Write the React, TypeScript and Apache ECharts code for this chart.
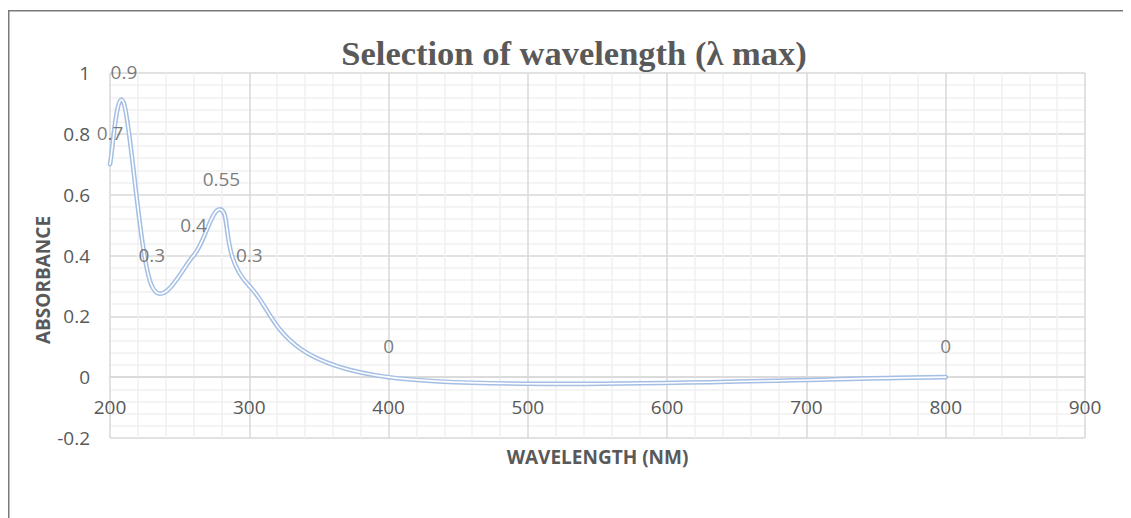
import React, { useEffect, useRef } from "react";
import * as echarts from "echarts";

// ---- data ----
const wavelengths = [200, 210, 230, 260, 280, 300, 400, 800];
const absorbance = [0.7, 0.9, 0.3, 0.4, 0.55, 0.3, 0, 0];
const xMin = 200;
const xMax = 900;
const xStep = 100;
const yMin = -0.2;
const yMax = 1;
const yStep = 0.2;
const titleText = "Selection of wavelength (λ max)";
const xName = "WAVELENGTH (NM)";
const yName = "ABSORBANCE";

const TEXT = "#595959";
const FONT = "'Open Sans', 'Noto Sans', sans-serif";
const GRID_H = 365;

function splineItem(width: number, color: string) {
  return (params: any, api: any) => {
    const i = api.value(2) as number;
    const n = wavelengths.length;
    const pt = (j: number) => {
      const k = Math.max(0, Math.min(n - 1, j));
      return api.coord([wavelengths[k], absorbance[k]]);
    };
    const p0 = pt(i - 1);
    const p1 = pt(i);
    const p2 = pt(i + 1);
    const p3 = pt(i + 2);
    const shape = {
      x1: p1[0],
      y1: p1[1],
      cpx1: p1[0] + (p2[0] - p0[0]) / 6,
      cpy1: p1[1] + (p2[1] - p0[1]) / 6,
      cpx2: p2[0] - (p3[0] - p1[0]) / 6,
      cpy2: p2[1] - (p3[1] - p1[1]) / 6,
      x2: p2[0],
      y2: p2[1],
    };
    return {
      type: "bezierCurve",
      shape,
      style: { stroke: color, lineWidth: width, fill: "none", lineCap: "round" },
    };
  };
}

export default function App() {
  const ref = useRef<HTMLDivElement>(null);
  useEffect(() => {
    if (!ref.current) return;
    const chart = echarts.init(ref.current, undefined, { renderer: "svg" });
    const segData = wavelengths.slice(0, -1).map((w, i) => [w, absorbance[i], i]);
    const pointData = wavelengths.map((w, i) => [w, absorbance[i]]);
    // distance from the bottom of the plot to the value-0 line
    const zeroOffset = (GRID_H * (0 - yMin)) / (yMax - yMin);
    chart.setOption({
      animation: false,
      backgroundColor: "#ffffff",
      grid: { left: 102, top: 65, width: 975, height: GRID_H, containLabel: false },
      xAxis: {
        type: "value",
        min: xMin,
        max: xMax,
        interval: xStep,
        position: "bottom",
        offset: -zeroOffset,
        axisLine: { show: true, onZero: false, lineStyle: { color: "#d9d9d9", width: 1.5 } },
        axisTick: { show: false },
        axisLabel: { color: TEXT, fontFamily: FONT, fontSize: 19, margin: 20 },
        splitLine: { show: true, lineStyle: { color: "#d9d9d9", width: 1.5 } },
        minorTick: { show: false, splitNumber: 5 },
        minorSplitLine: { show: true, lineStyle: { color: "#f0f0f0", width: 1.5 } },
      },
      yAxis: {
        type: "value",
        min: yMin,
        max: yMax,
        interval: yStep,
        axisLine: { show: false, onZero: false },
        axisTick: { show: false },
        axisLabel: { color: TEXT, fontFamily: FONT, fontSize: 19, margin: 20 },
        splitLine: { show: true, lineStyle: { color: "#d9d9d9", width: 1.5 } },
        minorTick: { show: false, splitNumber: 5 },
        minorSplitLine: { show: true, lineStyle: { color: "#f0f0f0", width: 1.5 } },
      },
      graphic: [
        {
          type: "rect",
          silent: true,
          shape: { x: 0.75, y: 2.75, width: 3000, height: 3000 },
          style: { fill: "none", stroke: "#7a7a7a", lineWidth: 1.5 },
          z: 100,
        },
        {
          type: "text",
          x: 566,
          y: 45,
          style: {
            text: titleText,
            fill: TEXT,
            font: "bold 34.5px 'Liberation Serif', 'Times New Roman', serif",
            align: "center",
            verticalAlign: "middle",
          },
        },
        {
          type: "text",
          x: 589.5,
          y: 449,
          style: {
            text: xName,
            fill: TEXT,
            font: "bold 19px 'Open Sans', sans-serif",
            align: "center",
            verticalAlign: "middle",
          },
        },
        {
          type: "text",
          x: 35,
          y: 272,
          rotation: Math.PI / 2,
          style: {
            text: yName,
            fill: TEXT,
            font: "bold 19px 'Open Sans', sans-serif",
            align: "center",
            verticalAlign: "middle",
          },
        },
      ],
      series: [
        {
          type: "custom",
          silent: true,
          coordinateSystem: "cartesian2d",
          encode: { x: 0, y: 1 },
          data: segData,
          renderItem: splineItem(4.6, "#a4bee4"),
          z: 3,
        },
        {
          type: "custom",
          silent: true,
          coordinateSystem: "cartesian2d",
          encode: { x: 0, y: 1 },
          data: segData,
          renderItem: splineItem(1.6, "#ffffff"),
          z: 4,
        },
        {
          type: "scatter",
          silent: true,
          data: pointData,
          symbolSize: 1,
          itemStyle: { color: "rgba(0,0,0,0)" },
          label: {
            show: true,
            position: "top",
            distance: 21,
            color: TEXT,
            fontFamily: FONT,
            fontSize: 19,
            formatter: (p: any) => String(p.value[1]),
          },
          z: 5,
        },
      ],
    });
    return () => chart.dispose();
  }, []);
  return <div ref={ref} style={{ width: 1123, height: 510 }} />;
}
